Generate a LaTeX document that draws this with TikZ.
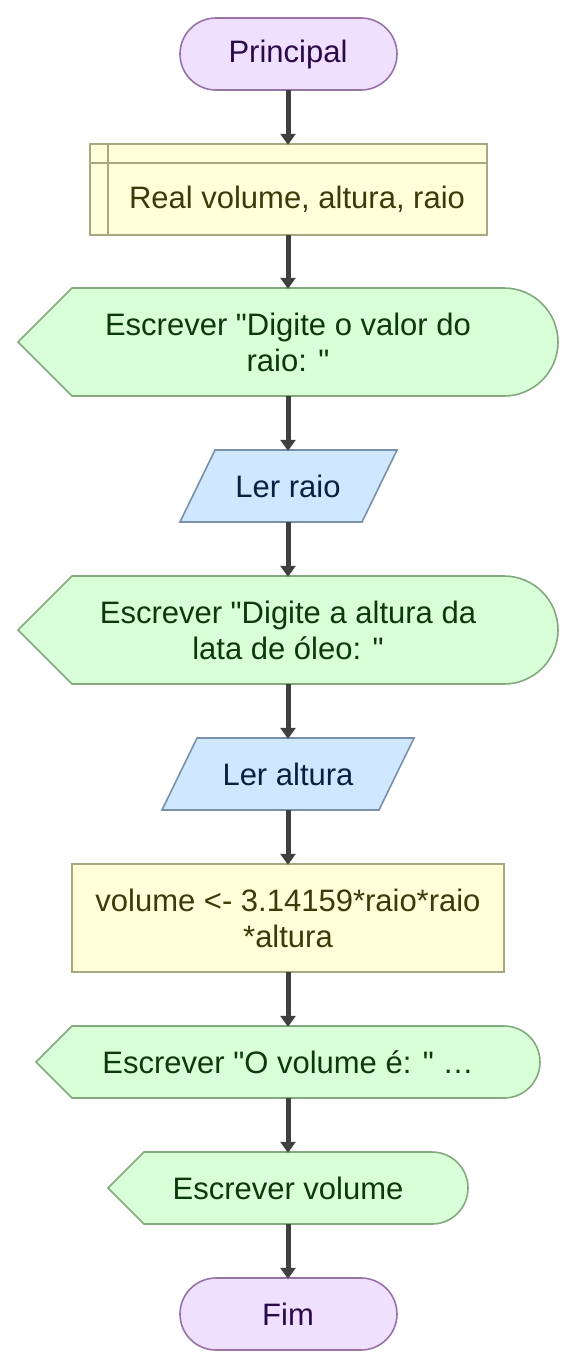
\documentclass[tikz,border=0pt]{standalone}
\usepackage{fontspec}
\setmainfont{Liberation Sans}[Ligatures=TeXOff]
\usetikzlibrary{arrows.meta}
\definecolor{pfill}{HTML}{F0E0FF}
\definecolor{pdraw}{HTML}{9673A6}
\definecolor{ptext}{HTML}{2A0A48}
\definecolor{yfill}{HTML}{FFFFD9}
\definecolor{ydraw}{HTML}{A8A880}
\definecolor{ytext}{HTML}{3A3A0A}
\definecolor{gfill}{HTML}{D9FFD9}
\definecolor{gdraw}{HTML}{82A87E}
\definecolor{gtext}{HTML}{0A3A0A}
\definecolor{bfill}{HTML}{D0E8FF}
\definecolor{bdraw}{HTML}{7890A8}
\definecolor{btext}{HTML}{0A2040}
\definecolor{arrc}{HTML}{404040}
\begin{document}
\begin{tikzpicture}[x=1pt,y=-1pt,
  lbl/.style={inner sep=0pt, align=center, font=\fontsize{31}{36}\selectfont},
  term/.style={fill=pfill, draw=pdraw, line width=1.6pt},
  proc/.style={fill=yfill, draw=ydraw, line width=1.6pt},
  outp/.style={fill=gfill, draw=gdraw, line width=1.6pt},
  inp/.style={fill=bfill, draw=bdraw, line width=1.6pt},
  arr/.style={draw=arrc, line width=5pt, -{Triangle[length=11pt,width=15pt]}, shorten >=-1pt}]
\useasboundingbox (0,0) rectangle (577,1369);
% shapes
\draw[term, rounded corners=36pt] (180,18) rectangle (397,90);
\draw[proc] (90,144) rectangle (487,235);
\draw[proc] (108,144) -- (108,235) (90,163) -- (487,163);
\draw[outp] (18,342) -- (72,288) [rounded corners=54pt] -- (558,288) -- (558,396) [sharp corners] -- (72,396) -- cycle;
\draw[inp] (215,450) -- (397,450) -- (362,522) -- (180,522) -- cycle;
\draw[outp] (18,630) -- (72,576) [rounded corners=54pt] -- (558,576) -- (558,684) [sharp corners] -- (72,684) -- cycle;
\draw[inp] (197,738) -- (414,738) -- (379,810) -- (162,810) -- cycle;
\draw[proc] (72,864) rectangle (504,972);
\draw[outp] (36,1062) -- (72,1026) [rounded corners=36pt] -- (540,1026) -- (540,1098) [sharp corners] -- (72,1098) -- cycle;
\draw[outp] (108,1188) -- (144,1152) [rounded corners=36pt] -- (468,1152) -- (468,1224) [sharp corners] -- (144,1224) -- cycle;
\draw[term, rounded corners=36pt] (180,1278) rectangle (397,1350);
% nodes
\node[lbl, text=ptext, minimum width=217pt, minimum height=72pt] (start) at (288,54) {Principal};
\node[lbl, text=ytext, minimum width=397pt, minimum height=91pt] (decl) at (288,189.5) {};
\node[lbl, text=ytext] (decltxt) at (297,199) {Real volume, altura, raio};
\node[lbl, text=gtext, minimum width=540pt, minimum height=108pt] (out1) at (288,342) {Escrever "Digite o valor do\\raio: "};
\node[lbl, text=btext, minimum width=217pt, minimum height=72pt] (in1) at (288,486) {Ler raio};
\node[lbl, text=gtext, minimum width=540pt, minimum height=108pt] (out2) at (288,630) {Escrever "Digite a altura da\\lata de óleo: "};
\node[lbl, text=btext, minimum width=252pt, minimum height=72pt] (in2) at (288,774) {Ler altura};
\node[lbl, text=ytext, minimum width=432pt, minimum height=108pt] (calc) at (288,918) {volume <- 3.14159*raio*raio\\*altura};
\node[lbl, text=gtext, minimum width=504pt, minimum height=72pt] (out3) at (288,1062) {Escrever "O volume é: " …};
\node[lbl, text=gtext, minimum width=360pt, minimum height=72pt] (out4) at (288,1188) {Escrever volume};
\node[lbl, text=ptext, minimum width=217pt, minimum height=72pt] (fim) at (288,1314) {Fim};
% connectors
\draw[arr] (start.south) -- (decl.north);
\draw[arr] (decl.south) -- (out1.north);
\draw[arr] (out1.south) -- (in1.north);
\draw[arr] (in1.south) -- (out2.north);
\draw[arr] (out2.south) -- (in2.north);
\draw[arr] (in2.south) -- (calc.north);
\draw[arr] (calc.south) -- (out3.north);
\draw[arr] (out3.south) -- (out4.north);
\draw[arr] (out4.south) -- (fim.north);
\end{tikzpicture}
\end{document}
